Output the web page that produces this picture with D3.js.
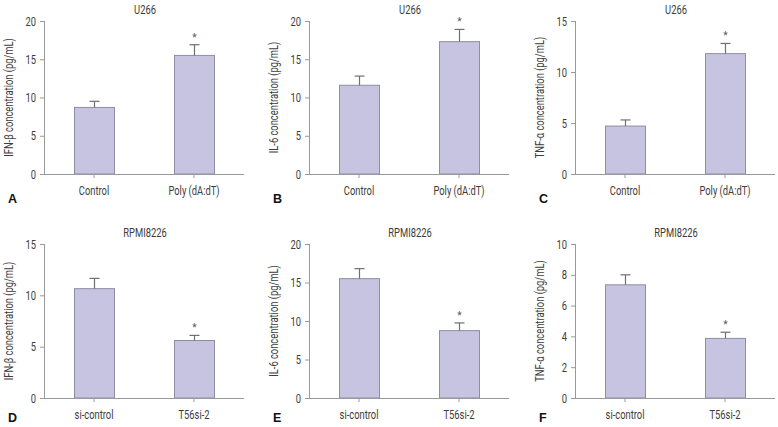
<!DOCTYPE html>
<html><head><meta charset="utf-8">
<script src="https://cdn.jsdelivr.net/npm/d3@7"></script>
<style>
body{margin:0;background:#fff;}
text{font-family:Roboto,"DejaVu Sans Condensed",sans-serif;}
</style></head>
<body><svg id="c" width="778" height="427"></svg>
<script>
const topCategories = ["Control", "Poly (dA:dT)"];
const bottomCategories = ["si-control", "T56si-2"];
const panelLetters = ["A", "B", "C", "D", "E", "F"];
const panelTitles = ["U266", "U266", "U266", "RPMI8226", "RPMI8226", "RPMI8226"];
const yLabels = ["IFN-β concentration (pg/mL)", "IL-6 concentration (pg/mL)", "TNF-α concentration (pg/mL)",
                 "IFN-β concentration (pg/mL)", "IL-6 concentration (pg/mL)", "TNF-α concentration (pg/mL)"];
const yMax = [20, 20, 15, 15, 20, 10];
const yTickStep = [5, 5, 5, 5, 5, 2];
const valuesA = [8.7, 15.5],  errorsA = [0.8, 1.4];
const valuesB = [11.6, 17.3], errorsB = [1.2, 1.6];
const valuesC = [4.7, 11.8],  errorsC = [0.6, 1.0];
const valuesD = [10.65, 5.6], errorsD = [1.0, 0.5];
const valuesE = [15.5, 8.75], errorsE = [1.3, 1.0];
const valuesF = [7.35, 3.87], errorsF = [0.65, 0.4];
const significant = [[false, true], [false, true], [false, true], [false, true], [false, true], [false, true]];

const allValues = [valuesA, valuesB, valuesC, valuesD, valuesE, valuesF];
const allErrors = [errorsA, errorsB, errorsC, errorsD, errorsE, errorsF];

const svg = d3.select("#c");
const colX = [44, 309, 575];
const rowY = [[21, 174], [244, 398]];
const plotW = 200;
const axisColor = "#999999";
const errColor = "#707070";
const textColor = "#3c3c3c";
const barFill = "#c6c4e0";
const barStroke = "#8f8da6";
const SX = 0.72;

// horizontally condense a text element, keeping its anchor point
function condense(sel) {
  sel.each(function () {
    const t = d3.select(this);
    const x = +t.attr("x") || 0;
    t.attr("x", 0).attr("transform", `translate(${x},0) scale(${SX},1)`);
  });
}

for (let i = 0; i < 6; i++) {
  const col = i % 3, row = Math.floor(i / 3);
  const x0 = colX[col], yTop = rowY[row][0], yBot = rowY[row][1];
  const cats = row === 0 ? topCategories : bottomCategories;
  const g = svg.append("g");
  const x = d3.scaleBand().domain(cats).range([x0, x0 + plotW]).paddingInner(0.6).paddingOuter(0.3);
  const y = d3.scaleLinear().domain([0, yMax[i]]).range([yBot, yTop]);
  const ticks = d3.range(0, yMax[i] + 0.001, yTickStep[i]);

  // y axis
  const ya = g.append("g").attr("transform", `translate(${x0},0)`)
    .call(d3.axisLeft(y).tickValues(ticks).tickSize(4).tickPadding(4).tickFormat(d3.format("d")));
  ya.select(".domain").attr("stroke", axisColor).attr("d", `M0.5,${yTop}V${yBot}`);
  ya.selectAll(".tick line").attr("stroke", axisColor);
  ya.selectAll(".tick text").attr("fill", textColor).style("font-size", "13px").call(condense);

  // bars
  const vals = allValues[i], errs = allErrors[i];
  const data = cats.map((c, k) => ({c, v: vals[k], e: errs[k], s: significant[i][k]}));
  g.selectAll("rect.bar").data(data).enter().append("rect")
    .attr("x", d => x(d.c) + 0.5).attr("width", x.bandwidth())
    .attr("y", d => y(d.v)).attr("height", d => y(0) - y(d.v))
    .attr("fill", barFill).attr("stroke", barStroke).attr("stroke-width", 1);
  // error bars
  const cx = d => x(d.c) + x.bandwidth() / 2 + 0.5;
  g.selectAll("line.err").data(data).enter().append("line")
    .attr("x1", cx).attr("x2", cx).attr("y1", d => y(d.v)).attr("y2", d => y(d.v + d.e))
    .attr("stroke", errColor).attr("stroke-width", 1.2);
  g.selectAll("line.cap").data(data).enter().append("line")
    .attr("x1", d => cx(d) - 5).attr("x2", d => cx(d) + 5).attr("y1", d => y(d.v + d.e)).attr("y2", d => y(d.v + d.e))
    .attr("stroke", errColor).attr("stroke-width", 1.2);
  g.selectAll("text.star").data(data.filter(d => d.s)).enter().append("text")
    .attr("x", cx).attr("y", d => y(d.v + d.e) - 4)
    .attr("text-anchor", "middle").attr("fill", "#555").style("font-size", "10px").text("*");

  // x axis
  const xa = g.append("g").attr("transform", `translate(0,${yBot})`)
    .call(d3.axisBottom(x).tickSize(4).tickPadding(8));
  xa.select(".domain").attr("stroke", axisColor).attr("d", `M${x0 - 4},0.5H${x0 + plotW}`);
  xa.selectAll(".tick line").attr("stroke", axisColor);
  xa.selectAll(".tick text").attr("fill", textColor).style("font-size", "13px").call(condense);

  // title
  g.append("text").attr("x", x0 + plotW / 2 + 1).attr("y", yTop - 7).attr("text-anchor", "middle")
    .attr("fill", textColor).style("font-size", "13px").text(panelTitles[i]).call(condense);
  // y label
  g.append("text").attr("transform", `translate(${x0 - 31},${(yTop + yBot) / 2}) rotate(-90) scale(0.75,1)`)
    .attr("text-anchor", "middle").attr("fill", textColor).style("font-size", "12.5px").text(yLabels[i]);
  // panel letter
  g.append("text").attr("x", x0 - 36).attr("y", row === 0 ? yBot + 29 : yBot + 24)
    .attr("fill", "#111").style("font-size", "12.5px").style("font-weight", "bold")
    .style("font-family", "'Liberation Sans', Arial, sans-serif").text(panelLetters[i]);
}
</script></body></html>
